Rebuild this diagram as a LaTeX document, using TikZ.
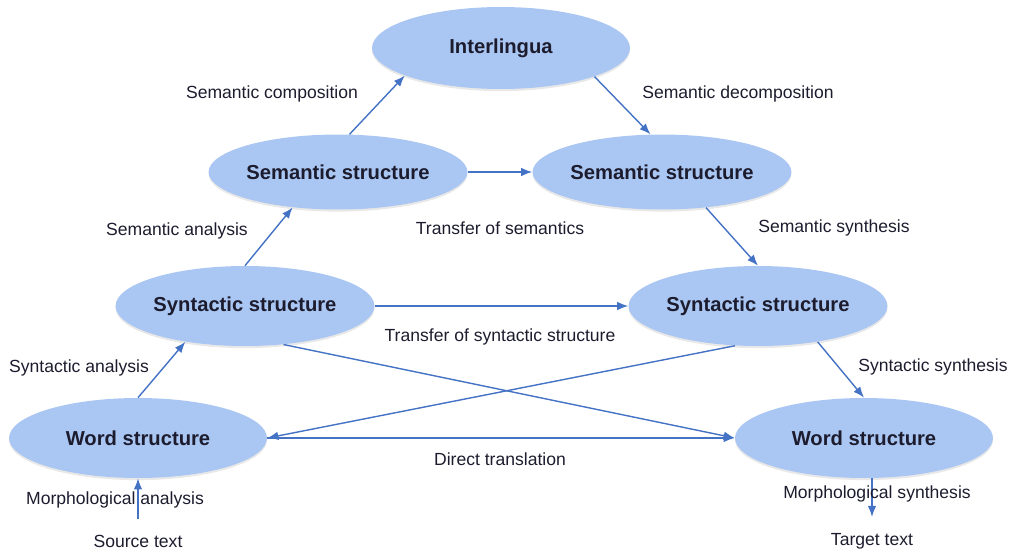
\documentclass[tikz,border=0pt]{standalone}
\usepackage{fontspec}
\setmainfont{Liberation Sans}
\usetikzlibrary{shapes.geometric,arrows.meta,shadows}

\definecolor{levelfill}{HTML}{AAC6F2}
\definecolor{linkblue}{HTML}{4472C4}
\definecolor{inkdark}{HTML}{1C1C2E}

\tikzset{
  level/.style={ellipse, fill=levelfill, inner sep=0pt,
    minimum width=5.16cm, minimum height=1.6cm,
    drop shadow={opacity=0.18, shadow xshift=0pt, shadow yshift=-1.2pt},
    font=\fontsize{11.5}{13}\selectfont\bfseries, text=inkdark},
  lbl/.style={font=\fontsize{10}{12}\selectfont, text=inkdark},
  link/.style={draw=linkblue, line width=0.8pt,
    -{Latex[length=2.2mm,width=1.7mm]}}
}

\begin{document}
\begin{tikzpicture}[x=0.02cm, y=-0.02cm]
        % Page frame
        \useasboundingbox (0,0) rectangle (1011,552);

        % Levels of the pyramid
        \node[level, minimum height=1.64cm] (inter) at (501,48) {Interlingua};
        \node[level, minimum height=1.5cm] (semL) at (338,172) {Semantic structure};
        \node[level, minimum height=1.5cm] (semR) at (662,172) {Semantic structure};
        \node[level] (synL) at (245,306) {Syntactic structure};
        \node[level] (synR) at (758,306) {Syntactic structure};
        \node[level] (wordL) at (138,438) {Word structure};
        \node[level] (wordR) at (864,438) {Word structure};

        % Texts at both ends
        \node[lbl] (src) at (138,541) {Source text};
        \node[lbl] (tgt) at (872,541) {Target text};

        % Upward (analysis) side
        \draw[link, shorten <=2mm] (src.north) -- (wordL.south);
        \draw[link] (wordL.north) -- (synL.211);
        \draw[link] (synL.north) -- (semL.218);
        \draw[link] (semL.73) -- (inter.196);

        % Downward (synthesis) side
        \draw[link] (inter.343) -- (semR.107);
        \draw[link] (semR.321) -- (synR.north);
        \draw[link] (synR.329) -- (wordR.north);
        \draw[link, shorten >=2mm] (wordR.south -| tgt) -- (tgt.north);

        % Transfers across
        \draw[link] (semL.east) -- (semR.west);
        \draw[link] (synL.east) -- (synR.west);
        \draw[link] (wordL.east) -- (wordR.west);
        \draw[link] (synL.315) -- (wordR.west);
        \draw[link] (synR.240) -- (wordL.east);

        % Labels of the steps
        \node[lbl] (lSemComp) at (272,94) {Semantic composition};
        \node[lbl] (lSemDec) at (738,94) {Semantic decomposition};
        \node[lbl] (lSemAna) at (177,231) {Semantic analysis};
        \node[lbl] (lSemTr) at (500,228) {Transfer of semantics};
        \node[lbl] (lSemSyn) at (834,228) {Semantic synthesis};
        \node[lbl] (lSynTr) at (500,337) {Transfer of syntactic structure};
        \node[lbl] (lSynAna) at (79,368) {Syntactic analysis};
        \node[lbl] (lSynSyn) at (933,367) {Syntactic synthesis};
        \node[lbl] (lDirect) at (500,459) {Direct translation};
        \node[lbl] (lMorAna) at (115,500) {Morphological analysis};
        \node[lbl] (lMorSyn) at (877,494) {Morphological synthesis};
    \end{tikzpicture}
\end{document}
